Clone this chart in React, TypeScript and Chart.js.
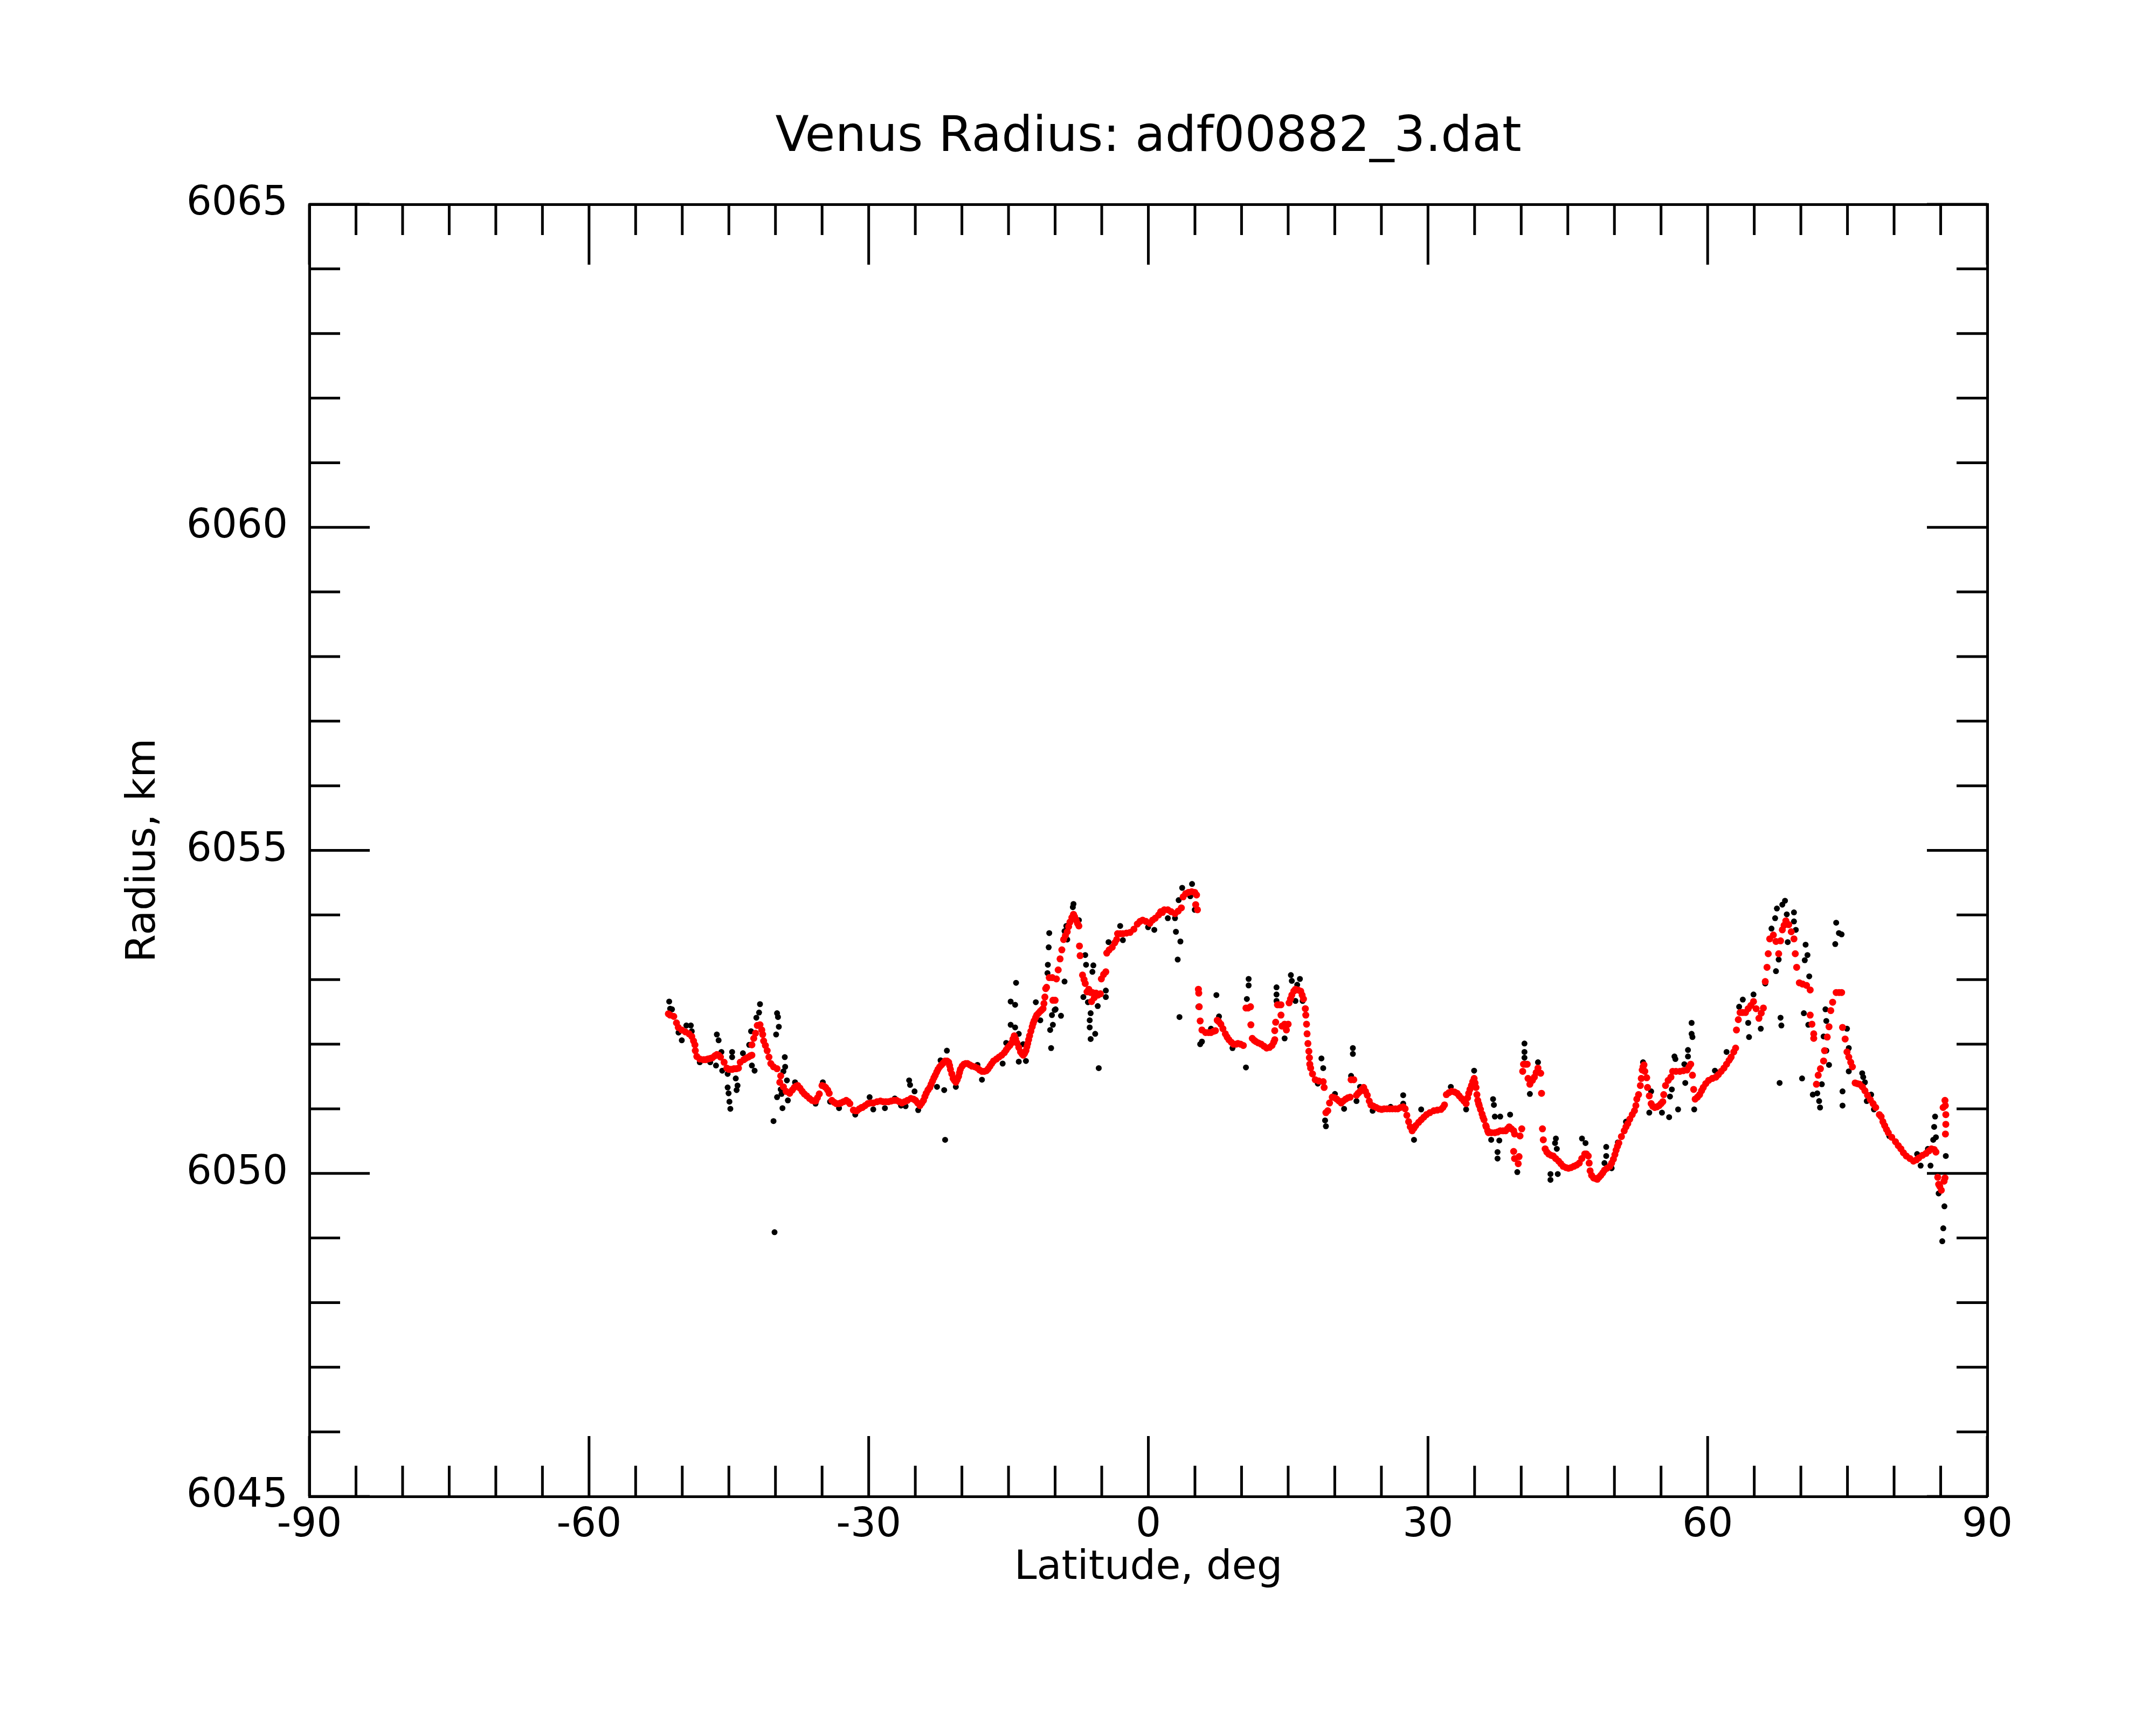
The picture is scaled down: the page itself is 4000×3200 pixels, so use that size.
import { useEffect, useRef } from "react";
import { Chart, registerables } from "chart.js";

Chart.register(...registerables);

const FONT = "DejaVu Sans";

const chartTitle = "Venus Radius: adf00882_3.dat";
const xTitle = "Latitude, deg";
const yTitle = "Radius, km";

// axis ranges and tick marks
const latRange = [-90, 90];
const radiusRange = [6045, 6065];
const latMajorTicks = [-90, -60, -30, 0, 30, 60, 90];
const latMinorTicks = [
  -85, -80, -75, -70, -65, -55, -50, -45, -40, -35, -25, -20, -15, -10, -5, 5,
  10, 15, 20, 25, 35, 40, 45, 50, 55, 65, 70, 75, 80, 85,
];
const radiusMajorTicks = [6045, 6050, 6055, 6060, 6065];
const radiusMinorTicks = [
  6046, 6047, 6048, 6049, 6051, 6052, 6053, 6054, 6056, 6057, 6058, 6059, 6061,
  6062, 6063, 6064,
];

// smoothed radius (red), [latitude, radius]
const smoothedPoints = [
  [-51.49, 6052.47], [-51.3, 6052.45], [-50.91, 6052.43], [-50.62, 6052.33], [-50.43, 6052.26],
  [-50.05, 6052.22], [-49.66, 6052.19], [-49.27, 6052.16], [-48.98, 6052.12], [-48.79, 6052.05],
  [-48.64, 6051.99], [-48.6, 6051.9], [-48.44, 6051.81], [-48.12, 6051.77], [-47.73, 6051.76],
  [-47.5, 6051.76], [-47.25, 6051.77], [-47.0, 6051.78], [-46.77, 6051.79], [-46.5, 6051.82],
  [-46.29, 6051.84], [-46.1, 6051.83], [-45.9, 6051.8], [-45.51, 6051.72], [-45.22, 6051.63],
  [-45.0, 6051.61], [-44.84, 6051.61], [-44.65, 6051.61], [-44.45, 6051.62], [-44.2, 6051.62],
  [-43.97, 6051.63], [-43.78, 6051.72], [-43.4, 6051.76], [-43.2, 6051.78], [-42.91, 6051.8],
  [-42.7, 6051.82], [-42.53, 6051.83], [-42.53, 6051.99], [-42.33, 6052.09], [-42.14, 6052.17],
  [-41.95, 6052.29], [-41.66, 6052.3], [-41.47, 6052.22], [-41.37, 6052.15], [-41.27, 6052.05],
  [-41.08, 6051.98], [-40.89, 6051.9], [-40.7, 6051.8], [-40.5, 6051.7], [-40.21, 6051.65],
  [-39.83, 6051.62], [-39.44, 6051.51], [-39.54, 6051.41], [-39.15, 6051.34], [-38.86, 6051.27],
  [-38.48, 6051.24], [-38.2, 6051.29], [-37.98, 6051.33], [-37.8, 6051.35], [-37.61, 6051.36],
  [-37.37, 6051.32], [-37.13, 6051.27], [-36.9, 6051.23], [-36.65, 6051.2], [-36.35, 6051.16],
  [-36.07, 6051.13], [-35.85, 6051.12], [-35.68, 6051.12], [-35.5, 6051.17], [-35.3, 6051.23],
  [-35.01, 6051.36], [-34.8, 6051.35], [-34.62, 6051.33], [-34.4, 6051.29], [-34.24, 6051.24],
  [-33.95, 6051.13], [-33.7, 6051.1], [-33.47, 6051.08], [-33.2, 6051.08], [-32.99, 6051.09],
  [-32.7, 6051.11], [-32.41, 6051.13], [-32.2, 6051.11], [-32.02, 6051.08], [-31.64, 6050.98],
  [-31.45, 6050.97], [-31.25, 6050.97], [-31.0, 6051.0], [-30.77, 6051.02],
  [-30.67, 6051.02], [-30.38, 6051.05], [-30.09, 6051.08], [-29.8, 6051.09], [-29.51, 6051.09],
  [-29.1, 6051.11], [-28.74, 6051.12], [-28.45, 6051.11], [-28.16, 6051.11], [-27.88, 6051.11],
  [-27.59, 6051.12], [-27.3, 6051.13], [-27.01, 6051.13], [-26.72, 6051.11], [-26.43, 6051.09],
  [-26.14, 6051.11], [-25.85, 6051.13], [-25.47, 6051.16], [-25.2, 6051.15], [-24.98, 6051.13],
  [-24.75, 6051.09], [-24.5, 6051.05], [-24.3, 6051.09], [-24.12, 6051.13], [-23.97, 6051.19],
  [-23.83, 6051.24], [-23.64, 6051.29], [-23.44, 6051.33], [-23.3, 6051.38], [-23.15, 6051.43],
  [-23.0, 6051.48], [-22.86, 6051.52], [-22.7, 6051.57], [-22.57, 6051.61], [-22.38, 6051.65],
  [-22.19, 6051.68], [-22.0, 6051.71], [-21.8, 6051.74], [-21.6, 6051.74], [-21.42, 6051.72],
  [-21.32, 6051.67], [-21.23, 6051.61], [-21.08, 6051.54], [-20.94, 6051.47], [-20.8, 6051.44],
  [-20.65, 6051.41], [-20.5, 6051.45], [-20.36, 6051.5], [-20.26, 6051.56], [-20.17, 6051.61],
  [-19.98, 6051.66], [-19.78, 6051.69], [-19.6, 6051.7], [-19.4, 6051.7], [-19.15, 6051.68],
  [-18.91, 6051.66], [-18.62, 6051.65], [-18.33, 6051.63], [-18.1, 6051.6], [-17.85, 6051.58],
  [-17.6, 6051.58], [-17.37, 6051.59], [-17.18, 6051.62], [-16.99, 6051.66], [-16.8, 6051.7],
  [-16.6, 6051.74], [-16.3, 6051.77], [-16.02, 6051.8], [-15.73, 6051.83], [-15.44, 6051.87],
  [-15.25, 6051.91], [-15.06, 6051.95], [-14.86, 6051.98], [-14.67, 6052.02], [-14.52, 6052.08],
  [-14.38, 6052.13], [-14.24, 6052.08], [-14.09, 6052.02], [-13.9, 6051.95], [-13.71, 6051.88],
  [-13.56, 6051.85], [-13.42, 6051.83], [-13.27, 6051.86], [-13.13, 6051.9], [-13.03, 6051.96],
  [-12.94, 6052.01], [-12.84, 6052.07], [-12.74, 6052.13], [-12.6, 6052.2], [-12.46, 6052.27],
  [-12.36, 6052.32], [-12.26, 6052.36], [-12.1, 6052.41], [-11.97, 6052.45], [-11.78, 6052.48],
  [-11.59, 6052.51], [-11.45, 6052.53], [-11.3, 6052.55], [-11.2, 6052.63], [-11.1, 6052.73],
  [-11.01, 6052.86], [-10.92, 6052.88], [-10.63, 6053.03], [-10.3, 6053.03], [-10.24, 6052.68],
  [-10.0, 6052.68], [-9.86, 6053.01], [-9.67, 6053.15], [-9.47, 6053.32], [-9.28, 6053.46],
  [-9.09, 6053.62], [-8.9, 6053.68], [-8.7, 6053.74], [-8.55, 6053.82], [-8.41, 6053.89],
  [-8.2, 6053.96], [-8.03, 6054.01], [-7.9, 6053.97], [-7.74, 6053.92], [-7.6, 6053.87],
  [-7.45, 6053.83], [-7.39, 6053.52], [-7.32, 6053.37], [-7.06, 6053.07], [-6.9, 6053.0],
  [-6.77, 6052.94], [-6.58, 6052.81], [-6.39, 6052.85], [-6.2, 6052.8], [-6.0, 6052.8],
  [-6.09, 6052.66], [-5.8, 6052.72], [-5.61, 6052.79], [-5.4, 6052.76], [-5.14, 6052.78],
  [-5.04, 6053.01], [-4.8, 6053.08], [-4.56, 6053.12], [-4.46, 6053.41], [-4.2, 6053.46],
  [-3.88, 6053.5], [-3.6, 6053.57], [-3.4, 6053.62], [-3.3, 6053.71], [-3.0, 6053.71],
  [-2.73, 6053.71], [-2.35, 6053.72], [-1.96, 6053.73], [-1.55, 6053.78], [-1.18, 6053.86],
  [-0.9, 6053.9], [-0.61, 6053.92], [-0.25, 6053.9], [0.16, 6053.87], [0.45, 6053.92],
  [0.74, 6053.95], [1.1, 6054.0], [1.32, 6054.05], [1.51, 6054.04], [1.71, 6054.08],
  [2.09, 6054.08], [2.45, 6054.05], [2.86, 6054.02], [3.2, 6054.06], [3.54, 6054.11],
  [3.73, 6054.28], [4.0, 6054.33], [4.31, 6054.35], [4.65, 6054.36], [4.98, 6054.35],
  [5.17, 6054.31], [5.08, 6054.16], [5.27, 6054.08], [5.37, 6052.85], [5.41, 6052.79],
  [5.46, 6052.58], [5.56, 6052.36], [5.75, 6052.22], [6.14, 6052.18], [6.45, 6052.18],
  [6.72, 6052.18], [7.0, 6052.2], [7.2, 6052.21], [7.39, 6052.37], [7.55, 6052.35],
  [7.78, 6052.31], [8.0, 6052.24], [8.26, 6052.16], [8.45, 6052.11], [8.64, 6052.07],
  [8.9, 6052.03], [9.13, 6052.0], [9.4, 6052.0], [9.61, 6052.01], [9.9, 6052.0],
  [10.19, 6051.98], [10.47, 6052.56], [10.7, 6052.56], [10.96, 6052.58], [11.0, 6052.3],
  [11.15, 6052.09], [11.35, 6052.06], [11.54, 6052.04], [11.8, 6052.02], [12.11, 6052.0],
  [12.4, 6051.97], [12.69, 6051.94], [13.0, 6051.95], [13.27, 6051.98], [13.45, 6052.03],
  [13.56, 6052.07], [13.56, 6052.21], [13.66, 6052.34], [13.85, 6052.61], [14.05, 6052.61],
  [14.23, 6052.61], [14.23, 6052.45], [14.33, 6052.28], [14.62, 6052.31], [14.81, 6052.22],
  [15.0, 6052.31], [15.1, 6052.64], [15.25, 6052.7], [15.39, 6052.76], [15.6, 6052.82],
  [15.78, 6052.85], [16.05, 6052.84], [16.35, 6052.82], [16.5, 6052.76], [16.64, 6052.7],
  [16.84, 6052.55], [16.89, 6052.45], [16.97, 6052.31], [17.03, 6052.16], [17.12, 6052.01],
  [17.22, 6051.89], [17.28, 6051.79], [17.32, 6051.69], [17.41, 6051.63], [17.61, 6051.54],
  [17.9, 6051.45], [18.28, 6051.43], [18.76, 6051.42], [18.86, 6051.33], [19.05, 6050.94],
  [19.25, 6050.97], [19.44, 6051.09], [19.73, 6051.18], [20.0, 6051.17], [20.21, 6051.15],
  [20.45, 6051.12], [20.69, 6051.09], [20.9, 6051.12], [21.17, 6051.15], [21.4, 6051.17],
  [21.65, 6051.18], [21.75, 6051.45], [22.04, 6051.45], [22.33, 6051.21], [22.5, 6051.24],
  [22.71, 6051.27], [22.9, 6051.3], [23.1, 6051.33], [23.3, 6051.27], [23.49, 6051.21],
  [23.7, 6051.12], [23.87, 6051.06], [24.15, 6051.04], [24.45, 6051.02], [24.75, 6051.0],
  [25.03, 6050.99], [25.3, 6051.0], [25.6, 6051.0], [25.9, 6051.0], [26.18, 6051.0],
  [26.5, 6051.0], [26.76, 6051.0], [27.05, 6051.02], [27.34, 6051.03], [27.55, 6051.0],
  [27.73, 6050.9], [27.92, 6050.8], [28.1, 6050.72], [28.3, 6050.66], [28.5, 6050.7],
  [28.69, 6050.74], [29.0, 6050.79], [29.27, 6050.83], [29.55, 6050.87], [29.84, 6050.91],
  [30.2, 6050.94], [30.62, 6050.97], [31.0, 6050.98], [31.39, 6050.99], [31.6, 6051.02],
  [31.77, 6051.06], [31.97, 6051.22], [32.25, 6051.25], [32.54, 6051.27], [32.85, 6051.26],
  [33.12, 6051.24], [33.35, 6051.2], [33.6, 6051.16], [33.85, 6051.12], [34.09, 6051.08],
  [34.25, 6051.17], [34.37, 6051.24], [34.5, 6051.3], [34.66, 6051.36], [34.8, 6051.42],
  [34.95, 6051.47], [35.05, 6051.4], [35.15, 6051.33], [35.25, 6051.22], [35.34, 6051.13],
  [35.43, 6051.08], [35.5, 6051.05], [35.63, 6050.99], [35.8, 6050.92], [35.9, 6050.87],
  [36.01, 6050.83], [36.2, 6050.74], [36.25, 6050.72], [36.4, 6050.66], [36.49, 6050.63],
  [36.8, 6050.63], [37.17, 6050.63], [37.45, 6050.64], [37.75, 6050.66], [38.05, 6050.66],
  [38.33, 6050.66], [38.52, 6050.69], [38.71, 6050.72], [38.95, 6050.69], [39.19, 6050.66],
  [39.29, 6050.61], [39.19, 6050.34], [39.29, 6050.23], [39.68, 6050.15], [39.77, 6050.26],
  [39.87, 6050.58], [40.06, 6050.69], [40.16, 6051.58], [40.25, 6051.69], [40.45, 6051.69],
  [40.64, 6051.69], [40.73, 6051.47], [40.93, 6051.38], [41.2, 6051.44], [41.41, 6051.49],
  [41.6, 6051.56], [41.8, 6051.63], [42.09, 6051.55], [42.18, 6051.24], [42.28, 6050.69],
  [42.37, 6050.52], [42.57, 6050.38], [42.75, 6050.33], [42.95, 6050.3], [43.2, 6050.28],
  [43.43, 6050.27], [43.7, 6050.23], [44.01, 6050.19], [44.25, 6050.15], [44.5, 6050.11],
  [44.8, 6050.09], [45.07, 6050.08], [45.35, 6050.09], [45.65, 6050.11], [45.95, 6050.13],
  [46.23, 6050.16], [46.5, 6050.23], [46.81, 6050.3], [47.0, 6050.3], [47.19, 6050.27],
  [47.29, 6050.16], [47.39, 6050.04], [47.55, 6049.97], [47.77, 6049.93], [48.0, 6049.92],
  [48.16, 6049.91], [48.35, 6049.94], [48.54, 6049.97], [48.75, 6050.01], [48.93, 6050.05],
  [49.2, 6050.08], [49.5, 6050.11], [49.7, 6050.16], [49.89, 6050.22], [50.05, 6050.29],
  [50.18, 6050.36], [50.33, 6050.42], [50.47, 6050.47], [50.75, 6050.57], [51.05, 6050.66],
  [51.24, 6050.72], [51.43, 6050.77], [51.65, 6050.84], [51.91, 6050.91], [52.15, 6050.97],
  [52.3, 6051.05], [52.4, 6051.15], [52.59, 6051.22], [52.78, 6051.36], [52.88, 6051.47],
  [52.98, 6051.6], [53.07, 6051.65], [53.17, 6051.68], [53.26, 6051.58], [53.46, 6051.48],
  [53.55, 6051.33], [53.74, 6051.2], [53.94, 6051.08], [54.1, 6051.04], [54.32, 6051.02],
  [54.55, 6051.03], [54.8, 6051.05], [55.0, 6051.08], [55.19, 6051.11], [55.29, 6051.22],
  [55.48, 6051.36], [55.77, 6051.44], [56.06, 6051.49], [56.25, 6051.58], [56.6, 6051.58],
  [57.02, 6051.58], [57.4, 6051.59], [57.79, 6051.6], [58.0, 6051.65], [58.18, 6051.69],
  [58.37, 6051.52], [58.5, 6051.3], [58.66, 6051.15], [58.9, 6051.18], [59.14, 6051.22],
  [59.35, 6051.28], [59.53, 6051.33], [59.8, 6051.39], [60.11, 6051.44], [60.5, 6051.47],
  [60.88, 6051.49], [61.15, 6051.53], [61.45, 6051.58], [61.75, 6051.63], [62.03, 6051.69],
  [62.3, 6051.75], [62.52, 6051.8], [62.8, 6051.88], [63.0, 6051.94], [63.09, 6052.22],
  [63.29, 6052.38], [63.48, 6052.49], [63.75, 6052.49], [64.06, 6052.49], [64.35, 6052.55],
  [64.64, 6052.6], [64.92, 6052.66], [65.2, 6052.55], [65.5, 6052.4], [65.75, 6052.48],
  [65.98, 6052.56], [66.18, 6052.97], [66.37, 6053.19], [66.5, 6053.4], [66.66, 6053.63],
  [67.05, 6053.69], [67.33, 6053.59], [67.62, 6053.4], [67.82, 6053.6], [68.01, 6053.77],
  [68.2, 6053.84], [68.39, 6053.91], [68.7, 6053.85], [68.97, 6053.74], [69.26, 6053.63],
  [69.4, 6053.4], [69.55, 6053.19], [69.84, 6052.95], [70.2, 6052.93], [70.61, 6052.91],
  [71.0, 6052.84], [71.0, 6052.45], [71.19, 6052.31], [71.38, 6052.16], [71.38, 6052.09],
  [71.67, 6051.38], [71.86, 6051.52], [72.1, 6051.62], [72.44, 6051.74], [72.54, 6051.9],
  [72.83, 6052.11], [73.02, 6052.27], [73.21, 6052.52], [73.41, 6052.65], [73.79, 6052.8],
  [74.1, 6052.8], [74.37, 6052.8], [74.47, 6052.26], [74.75, 6052.08], [74.95, 6051.88],
  [75.14, 6051.8], [75.35, 6051.72], [75.53, 6051.65], [75.82, 6051.4], [76.05, 6051.39],
  [76.3, 6051.38], [76.6, 6051.34], [76.87, 6051.28], [77.15, 6051.21], [77.45, 6051.14],
  [77.75, 6051.08], [78.03, 6051.02], [78.42, 6050.91], [78.61, 6050.88], [78.8, 6050.8],
  [78.99, 6050.74], [79.19, 6050.68], [79.38, 6050.63], [79.75, 6050.56], [80.15, 6050.49],
  [80.45, 6050.43], [80.73, 6050.38], [81.0, 6050.32], [81.31, 6050.27], [81.7, 6050.23],
  [82.08, 6050.19], [82.4, 6050.21], [82.66, 6050.24], [83.05, 6050.28], [83.43, 6050.31],
  [83.75, 6050.35], [84.01, 6050.38], [84.3, 6050.37], [84.49, 6050.33], [84.68, 6049.94],
  [84.78, 6049.83], [84.9, 6049.8], [85.07, 6049.74], [85.36, 6049.88], [85.46, 6049.93],
  [85.51, 6050.61], [85.55, 6050.76], [85.55, 6050.91], [85.46, 6051.13], [85.26, 6051.02],
  [85.5, 6051.05],
];

// raw radius (black) that shows beside the smoothed track, [latitude, radius]
const rawPoints = [
  [-51.4, 6052.66], [-51.3, 6052.55], [-51.1, 6052.54], [-50.4, 6052.18], [-50.05, 6052.06],
  [-49.56, 6052.29], [-49.08, 6052.29], [-48.98, 6052.2], [-48.12, 6051.72], [-47.0, 6051.72],
  [-46.29, 6052.15], [-46.1, 6052.06], [-46.38, 6051.67], [-45.8, 6051.88], [-45.71, 6051.59],
  [-45.13, 6051.54], [-44.65, 6051.88], [-44.65, 6051.8], [-44.26, 6051.47], [-44.07, 6051.36],
  [-44.17, 6051.29], [-45.13, 6051.33], [-45.03, 6051.24], [-44.94, 6051.11], [-44.84, 6051.0],
  [-43.49, 6051.86], [-42.24, 6051.59], [-42.53, 6051.67], [-42.62, 6052.2], [-42.82, 6051.99],
  [-42.05, 6052.41], [-41.76, 6052.49], [-41.66, 6052.62], [-39.83, 6052.48], [-39.73, 6052.42],
  [-39.64, 6052.27], [-39.93, 6052.15], [-39.0, 6051.8], [-38.96, 6051.65], [-39.15, 6051.58],
  [-38.77, 6051.44], [-39.44, 6051.3], [-39.35, 6051.23], [-39.83, 6051.18], [-38.67, 6051.13],
  [-39.25, 6051.01], [-40.21, 6050.81], [-40.1, 6049.09], [-37.9, 6051.41], [-35.7, 6051.08],
  [-34.92, 6051.41], [-34.14, 6051.11], [-33.18, 6051.01], [-31.44, 6050.91], [-29.9, 6051.18],
  [-29.51, 6050.99], [-28.26, 6051.01], [-27.2, 6051.16], [-26.53, 6051.05], [-26.04, 6051.04],
  [-25.66, 6051.44], [-25.56, 6051.37], [-25.08, 6051.27], [-24.69, 6050.98], [-23.64, 6051.3],
  [-22.67, 6051.34], [-22.29, 6051.75], [-21.9, 6051.29], [-21.8, 6050.52], [-21.61, 6051.9],
  [-20.65, 6051.34], [-18.33, 6051.68], [-17.85, 6051.45], [-15.63, 6051.7], [-15.25, 6052.02],
  [-14.77, 6052.66], [-14.29, 6052.61], [-14.77, 6052.3], [-14.29, 6052.26], [-14.19, 6052.95],
  [-13.9, 6051.73], [-13.9, 6052.16], [-13.43, 6052.0], [-13.13, 6051.74], [-12.07, 6052.65],
  [-11.59, 6052.37], [-10.63, 6053.72], [-10.69, 6053.5], [-10.78, 6053.23], [-10.82, 6053.1],
  [-10.05, 6052.53], [-10.34, 6052.45], [-9.95, 6052.54], [-9.37, 6052.44], [-10.24, 6052.3],
  [-10.53, 6052.22], [-10.43, 6051.94], [-8.99, 6052.97], [-8.7, 6053.62], [-8.99, 6053.75],
  [-8.8, 6053.83], [-8.1, 6054.12], [-8.03, 6054.17], [-7.45, 6053.92], [-6.77, 6053.38],
  [-6.68, 6053.23], [-5.9, 6053.22], [-6.0, 6053.12], [-6.97, 6052.73], [-6.48, 6052.65],
  [-6.19, 6052.48], [-6.29, 6052.37], [-6.29, 6052.26], [-5.7, 6052.16], [-6.19, 6052.08],
  [-5.32, 6051.63], [-5.43, 6052.59], [-4.56, 6052.83], [-4.56, 6052.73], [-4.27, 6053.58],
  [-3.02, 6053.83], [-2.73, 6053.61], [-0.03, 6053.81], [0.64, 6053.77], [2.09, 6053.95],
  [2.86, 6053.95], [2.96, 6053.74], [3.44, 6053.59], [3.15, 6053.31], [3.34, 6052.42],
  [3.25, 6054.23], [3.63, 6054.42], [4.69, 6054.48], [4.5, 6054.29], [4.98, 6054.08],
  [5.37, 6052.58], [5.56, 6052.0], [5.75, 6052.04], [6.72, 6052.24], [7.3, 6052.76],
  [7.58, 6052.43], [9.03, 6051.94], [10.47, 6051.64], [10.76, 6053.01], [10.76, 6052.91],
  [10.57, 6052.7], [13.75, 6052.88], [13.75, 6052.77], [13.75, 6052.67], [14.62, 6052.09],
  [15.29, 6053.07], [15.39, 6052.98], [15.97, 6052.92], [16.26, 6053.01], [15.78, 6052.67],
  [16.55, 6052.67], [18.18, 6051.39], [18.57, 6051.78], [18.76, 6051.63], [18.96, 6050.82],
  [19.05, 6050.73], [20.02, 6051.23], [21.0, 6051.0], [21.75, 6051.51], [21.94, 6051.94],
  [21.94, 6051.85], [22.33, 6051.12], [22.71, 6051.34], [24.06, 6050.97], [25.99, 6051.03],
  [27.34, 6051.21], [27.34, 6051.08], [28.5, 6050.52], [29.27, 6050.99], [32.45, 6051.34],
  [34.09, 6050.99], [34.95, 6051.59], [36.98, 6051.15], [37.07, 6051.06], [37.17, 6050.88],
  [37.75, 6050.88], [38.81, 6050.91], [36.78, 6050.52], [37.65, 6050.51], [37.46, 6050.33],
  [37.46, 6050.23], [39.58, 6050.02], [40.35, 6052.01], [40.35, 6051.88], [40.35, 6051.79],
  [40.93, 6051.23], [41.8, 6051.72], [43.72, 6050.54], [43.63, 6050.47], [43.82, 6050.38],
  [43.14, 6049.99], [43.14, 6049.9], [43.92, 6049.99], [46.52, 6050.54], [46.9, 6050.47],
  [48.93, 6050.16], [49.12, 6050.41], [49.12, 6050.27], [49.7, 6050.08], [50.37, 6050.48],
  [51.24, 6050.8], [53.07, 6051.72], [53.94, 6051.27], [53.74, 6050.94], [55.1, 6050.94],
  [55.87, 6050.87], [56.83, 6050.99], [55.96, 6051.19], [56.16, 6051.3], [56.44, 6051.81],
  [56.54, 6051.77], [57.5, 6051.69], [57.6, 6051.4], [57.89, 6051.91], [57.89, 6051.81],
  [58.28, 6052.16], [58.37, 6052.11], [58.28, 6052.33], [58.56, 6050.99], [60.78, 6051.59],
  [62.03, 6051.88], [62.42, 6051.77], [63.77, 6052.69], [63.38, 6052.58], [64.35, 6052.33],
  [64.44, 6052.11], [64.92, 6052.77], [65.7, 6052.24], [66.18, 6052.94], [66.85, 6053.79],
  [67.33, 6053.13], [67.43, 6054.1], [67.24, 6053.95], [68.01, 6054.16], [68.3, 6054.22],
  [68.49, 6054.01], [69.26, 6054.04], [69.26, 6053.9], [69.46, 6053.77], [68.59, 6053.58],
  [67.62, 6053.31], [67.82, 6052.41], [67.91, 6052.29], [67.72, 6051.4], [70.13, 6051.47],
  [70.51, 6053.54], [70.71, 6053.38], [70.42, 6053.3], [70.9, 6053.05], [70.32, 6052.48],
  [70.8, 6052.3], [71.28, 6051.22], [71.76, 6051.24], [71.96, 6051.12], [72.06, 6051.02],
  [72.25, 6051.38], [72.44, 6052.12], [72.64, 6052.54], [72.73, 6052.36], [72.73, 6051.9],
  [73.02, 6051.68], [73.69, 6053.55], [73.79, 6053.88], [74.08, 6053.72], [74.37, 6053.7],
  [74.47, 6051.27], [74.47, 6051.05], [74.95, 6052.24], [75.14, 6051.94], [75.14, 6051.58],
  [76.58, 6051.55], [76.69, 6051.49], [76.87, 6051.41], [77.07, 6051.12], [77.54, 6051.22],
  [77.84, 6050.99], [79.48, 6050.58], [82.47, 6050.3], [82.85, 6050.12], [83.63, 6050.38],
  [83.91, 6050.12], [84.2, 6050.52], [84.49, 6050.56], [84.3, 6050.72], [84.4, 6050.88],
  [85.55, 6050.27], [84.78, 6049.69], [85.4, 6049.49], [85.28, 6049.15], [85.17, 6048.95],
];

const toXY = (pts: number[][]) => pts.map(([x, y]) => ({ x, y }));
const numLabel = (v: number | string) => String(v);

// IDL-style tick marks pointing into the plot on all four sides
const innerTicks = {
  id: "innerTicks",
  beforeDatasetsDraw(chart: Chart) {
    const { ctx, chartArea } = chart;
    const { left, right, top, bottom } = chartArea;
    const xs = chart.scales.x;
    const ys = chart.scales.y;
    ctx.save();
    ctx.strokeStyle = "#000";
    ctx.lineWidth = 5;
    ctx.beginPath();
    const xTick = (v: number, len: number) => {
      const px = xs.getPixelForValue(v);
      ctx.moveTo(px, bottom);
      ctx.lineTo(px, bottom - len);
      ctx.moveTo(px, top);
      ctx.lineTo(px, top + len);
    };
    const yTick = (v: number, len: number) => {
      const py = ys.getPixelForValue(v);
      ctx.moveTo(left, py);
      ctx.lineTo(left + len, py);
      ctx.moveTo(right, py);
      ctx.lineTo(right - len, py);
    };
    latMajorTicks.forEach((v) => xTick(v, 112));
    latMinorTicks.forEach((v) => xTick(v, 57));
    radiusMajorTicks.forEach((v) => yTick(v, 112));
    radiusMinorTicks.forEach((v) => yTick(v, 57));
    ctx.stroke();
    ctx.restore();
  },
};

const axisBorder = { display: true, color: "#000", width: 5 };
const noGrid = { display: false, drawTicks: false };
const tickFont = { family: FONT, size: 74 };
const axisTitleFont = { family: FONT, size: 75 };

const App = () => {
  const canvasRef = useRef<HTMLCanvasElement>(null);

  useEffect(() => {
    if (!canvasRef.current) return;
    const chart = new Chart(canvasRef.current, {
      type: "scatter",
      data: {
        datasets: [
          {
            label: "smoothed",
            data: toXY(smoothedPoints),
            pointRadius: 6.5,
            pointBorderWidth: 0,
            pointBackgroundColor: "#ff0000",
            xAxisID: "x",
            yAxisID: "y",
          },
          {
            label: "raw",
            data: toXY(rawPoints),
            pointRadius: 5.5,
            pointBorderWidth: 0,
            pointBackgroundColor: "#000000",
            xAxisID: "x",
            yAxisID: "y",
          },
        ],
      },
      options: {
        responsive: false,
        animation: false,
        devicePixelRatio: 1,
        layout: { padding: 0 },
        plugins: {
          legend: { display: false },
          tooltip: { enabled: false },
          title: {
            display: true,
            fullSize: false,
            text: chartTitle,
            color: "#000",
            font: { family: FONT, size: 91, weight: "normal" },
            padding: { top: 202, bottom: 10 },
          },
        },
        scales: {
          x: {
            type: "linear",
            position: "bottom",
            min: latRange[0],
            max: latRange[1],
            afterFit: (s) => {
              s.height = 424;
            },
            ticks: {
              stepSize: 30,
              callback: numLabel,
              color: "#000",
              font: tickFont,
              padding: 10,
              maxRotation: 0,
              autoSkip: false,
            },
            grid: noGrid,
            border: axisBorder,
            title: {
              display: true,
              text: xTitle,
              color: "#000",
              font: axisTitleFont,
              padding: { top: 0, bottom: 245 },
            },
          },
          xTop: {
            type: "linear",
            position: "top",
            min: latRange[0],
            max: latRange[1],
            afterFit: (s) => {
              s.height = 379 - 321.2;
            },
            ticks: { display: false },
            grid: noGrid,
            border: axisBorder,
          },
          y: {
            type: "linear",
            position: "left",
            min: radiusRange[0],
            max: radiusRange[1],
            afterFit: (s) => {
              s.width = 574;
            },
            ticks: {
              stepSize: 5,
              callback: numLabel,
              color: "#000",
              font: tickFont,
              padding: 40,
            },
            grid: noGrid,
            border: axisBorder,
            title: {
              display: true,
              text: yTitle,
              color: "#000",
              font: axisTitleFont,
              padding: { top: 223, bottom: 0 },
            },
          },
          yRight: {
            type: "linear",
            position: "right",
            min: radiusRange[0],
            max: radiusRange[1],
            afterFit: (s) => {
              s.width = 313;
            },
            ticks: { display: false },
            grid: noGrid,
            border: axisBorder,
          },
        },
      },
      plugins: [innerTicks],
    });
    return () => chart.destroy();
  }, []);

  return (
    <canvas
      ref={canvasRef}
      width={4000}
      height={3200}
      style={{ position: "absolute", left: 0, top: 0, background: "#fff" }}
    />
  );
};

export default App;
